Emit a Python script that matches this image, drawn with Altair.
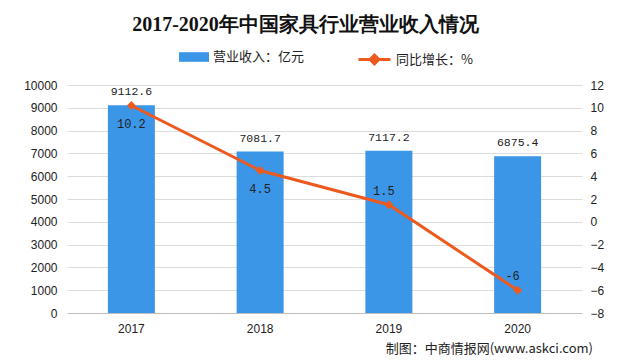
import altair as alt
import pandas as pd

years = ["2017", "2018", "2019", "2020"]
revenue = [9112.6, 7081.7, 7117.2, 6875.4]
growth = [10.2, 4.5, 1.5, -6]
growth_labels = ["10.2", "4.5", "1.5", "-6"]
label_below = [True, True, False, False]
left_ticks = [0, 1000, 2000, 3000, 4000, 5000, 6000, 7000, 8000, 9000, 10000]
right_ticks = [-8, -6, -4, -2, 0, 2, 4, 6, 8, 10, 12]
bar_series = "营业收入：亿元"
line_series = "同比增长：%"
title_text = "2017-2020年中国家具行业营业收入情况"
source_text = "制图：中商情报网(www.askci.com)"

BLUE = "#3c96e8"
ORANGE = "#ec5a1f"
CJK = "Noto Sans CJK SC"

df = pd.DataFrame({
    "year": years,
    "revenue": revenue,
    "growth": growth,
    "glabel": growth_labels,
    "below": label_below,
    "bs": [bar_series] * 4,
    "ls": [line_series] * 4,
})

base = alt.Chart(df)
x_axis = alt.Axis(labelAngle=0, ticks=False, domainColor="#bfbfbf",
                  labelPadding=10, labelFont="Liberation Sans",
                  labelFontSize=12, labelColor="#222")
x = alt.X("year:N", sort=years, title=None,
          scale=alt.Scale(paddingInner=0, paddingOuter=0), axis=x_axis)

left_axis = alt.Axis(values=left_ticks, format="d", domain=False, ticks=False,
                     gridColor="#dcdcdc", labelPadding=10,
                     labelFont="Liberation Sans", labelFontSize=12,
                     labelColor="#222")
right_axis = alt.Axis(values=right_ticks, format="d", domain=False, ticks=False,
                      grid=False, labelPadding=8, orient="right",
                      labelFont="Liberation Sans", labelFontSize=12,
                      labelColor="#222")
yl = alt.Y("revenue:Q", scale=alt.Scale(domain=[0, 10000], nice=False),
           title=None, axis=left_axis)
yr = alt.Y("growth:Q", scale=alt.Scale(domain=[-8, 12], nice=False),
           title=None, axis=right_axis)

bars = base.mark_bar(size=47, color=BLUE).encode(
    x=x,
    y=yl,
    color=alt.Color("bs:N", scale=alt.Scale(domain=[bar_series], range=[BLUE]),
                    legend=alt.Legend(title=None, orient="none", legendX=112,
                                      legendY=-43, padding=0,
                                      symbolType="M-1,-0.32H1V0.32H-1Z",
                                      symbolSize=900, symbolStrokeWidth=0,
                                      labelFont=CJK, labelFontSize=13,
                                      labelColor="#222", labelOffset=4)),
)

bar_text = base.mark_text(dy=-8, baseline="bottom", font="Liberation Mono",
                          fontSize=11.5, color="#222").encode(
    x=x,
    y=yl,
    text=alt.Text("revenue:Q", format=".1f"),
)

source = alt.Chart(pd.DataFrame({"t": [source_text]})).mark_text(
    align="right", baseline="middle", font=CJK, fontSize=13, color="#222"
).encode(x=alt.value(526), y=alt.value(264), text="t:N")

left = alt.layer(bars, bar_text, source)

line = base.mark_line(strokeWidth=3).encode(
    x=x,
    y=yr,
    stroke=alt.Stroke("ls:N", scale=alt.Scale(domain=[line_series], range=[ORANGE]),
                      legend=alt.Legend(title=None, orient="none", legendX=290,
                                        legendY=-43, padding=0,
                                        symbolType="M-1,0H1M0,-0.27L0.27,0L0,0.27L-0.27,0Z",
                                        symbolSize=1024, symbolStrokeWidth=3,
                                        symbolFillColor=ORANGE,
                                        labelFont=CJK, labelFontSize=13,
                                        labelColor="#222", labelOffset=4)),
)

points = base.mark_point(shape="diamond", size=80, color=ORANGE, filled=True,
                         opacity=1).encode(x=x, y=yr)

gtext_below = base.transform_filter("datum.below").mark_text(
    dy=18, font="Liberation Mono", fontSize=12, color="#222").encode(
    x=x, y=yr, text="glabel:N",
)
gtext_above = base.transform_filter("!datum.below").mark_text(
    dy=-14, dx=-5, font="Liberation Mono", fontSize=12, color="#222").encode(
    x=x, y=yr, text="glabel:N",
)

right = alt.layer(line, points, gtext_below, gtext_above)

chart = alt.layer(left, right).resolve_scale(
    y="independent", color="independent", stroke="independent"
).properties(
    width=515,
    height=228,
    padding={"left": 59, "top": 77, "right": 50, "bottom": 48},
    autosize=alt.AutoSizeParams(type="none"),
    background="white",
    title=alt.TitleParams(title_text, font="Liberation Serif", fontSize=20,
                          fontWeight="bold", color="#111", anchor="middle",
                          frame="group", dx=-19, offset=7),
).configure_view(stroke=None)

chart.save("out.html", embed_options={"renderer": "svg", "actions": False})
